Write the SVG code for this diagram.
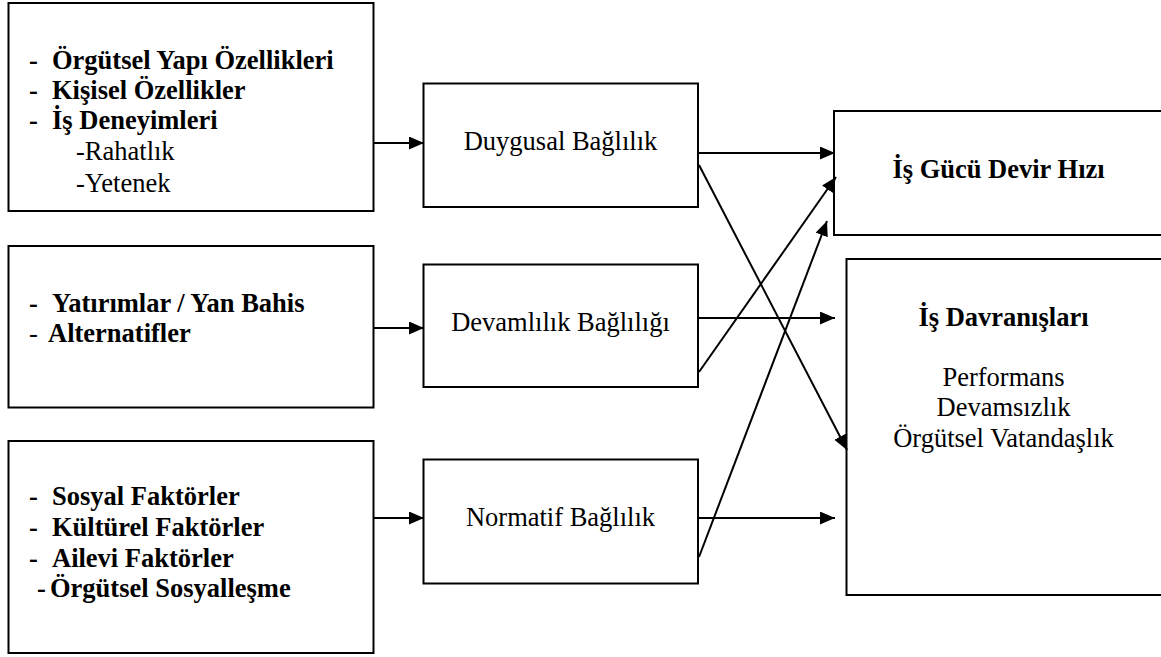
<svg xmlns="http://www.w3.org/2000/svg" width="1161" height="657" viewBox="0 0 1161 657">
<style>
.box{fill:#fff;stroke:#000;stroke-width:2}
text{font-family:'Liberation Serif','Times New Roman','DejaVu Serif',serif;font-size:26.5px;fill:#000}
.b{font-weight:bold}
.c{text-anchor:middle}
.ln{stroke:#000;stroke-width:2;fill:none;marker-end:url(#ah)}
</style>
<defs>
<marker id="ah" markerUnits="userSpaceOnUse" markerWidth="16" markerHeight="14" refX="15" refY="6.5" orient="auto">
<path d="M0,0 L15,6.5 L0,13 z" fill="#000"/>
</marker>
</defs>
<rect width="1161" height="657" fill="#fff"/>
<g id="src1">
<rect class="box" x="8.5" y="3" width="365" height="208"/>
<text class="b" x="29" y="68.5">-</text><text class="b" x="52" y="68.5">Örgütsel Yapı Özellikleri</text>
<text class="b" x="29" y="99">-</text><text class="b" x="52" y="99">Kişisel Özellikler</text>
<text class="b" x="29" y="129">-</text><text class="b" x="52" y="129">İş Deneyimleri</text>
<text x="76" y="160">-Rahatlık</text>
<text x="76" y="191.5">-Yetenek</text>
</g>
<g id="src2">
<rect class="box" x="8.5" y="246" width="365" height="161.5"/>
<text class="b" x="29" y="312">-</text><text class="b" x="52" y="312">Yatırımlar / Yan Bahis</text>
<text x="29" y="342">-</text><text class="b" x="48" y="342">Alternatifler</text>
</g>
<g id="src3">
<rect class="box" x="8.5" y="441" width="365" height="212"/>
<text class="b" x="29" y="505">-</text><text class="b" x="52" y="505">Sosyal Faktörler</text>
<text class="b" x="29" y="536">-</text><text class="b" x="52" y="536">Kültürel Faktörler</text>
<text class="b" x="29" y="567">-</text><text class="b" x="52" y="567">Ailevi Faktörler</text>
<text class="b" x="37" y="597">-</text><text class="b" x="50" y="597">Örgütsel Sosyalleşme</text>
</g>
<g id="duygusal">
<rect class="box" x="423.5" y="83.5" width="274.5" height="123.5"/>
<text class="c" x="560.5" y="150">Duygusal Bağlılık</text>
</g>
<g id="devamlilik">
<rect class="box" x="423.5" y="264.5" width="274.5" height="122.5"/>
<text class="c" x="560.5" y="331">Devamlılık Bağlılığı</text>
</g>
<g id="normatif">
<rect class="box" x="423.5" y="459.5" width="274.5" height="124"/>
<text class="c" x="560.5" y="526">Normatif Bağlılık</text>
</g>
<g id="isgucu">
<rect class="box" x="834" y="111" width="332" height="124"/>
<text class="b c" x="998.5" y="178">İş Gücü Devir Hızı</text>
</g>
<g id="isdavranislari">
<rect class="box" x="846.5" y="259" width="320" height="336"/>
<text class="b c" x="1003.5" y="326">İş Davranışları</text>
<text class="c" x="1003.5" y="386">Performans</text>
<text class="c" x="1003.5" y="416">Devamsızlık</text>
<text class="c" x="1003.5" y="447">Örgütsel Vatandaşlık</text>
</g>
<g id="connectors">
<line class="ln" x1="374" y1="143" x2="424" y2="143"/>
<line class="ln" x1="374" y1="328" x2="424" y2="328"/>
<line class="ln" x1="374" y1="518" x2="424" y2="518"/>
<line class="ln" x1="699" y1="153" x2="835" y2="153"/>
<line class="ln" x1="699" y1="165" x2="847" y2="450"/>
<line class="ln" x1="699" y1="318" x2="835" y2="318"/>
<line class="ln" x1="699" y1="372" x2="836" y2="177"/>
<line class="ln" x1="699" y1="518" x2="835" y2="518"/>
<line class="ln" x1="699" y1="557" x2="827" y2="221"/>
</g>
</svg>
